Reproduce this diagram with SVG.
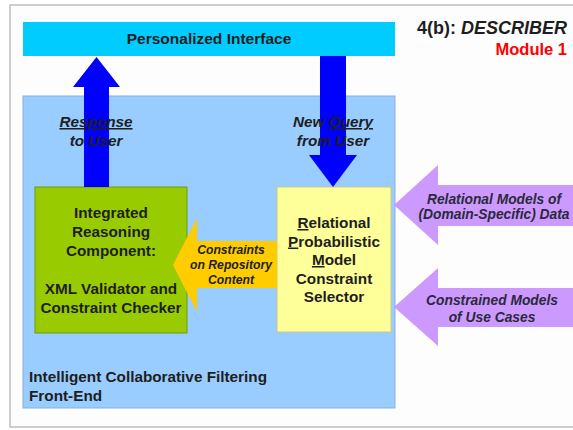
<svg xmlns="http://www.w3.org/2000/svg" width="573" height="430" viewBox="0 0 573 430">
  <style>
    text { font-family: "Liberation Sans", Arial, sans-serif; font-weight: bold; fill: #1e1e1e; }
    .main { font-size: 15.3px; }
    .mid { text-anchor: middle; }
    .it { font-style: italic; }
    .small { font-size: 12.2px; }
    .side { font-size: 13.8px; fill: #2a2a3a; }
    .ul { text-decoration: underline; }
  </style>

  <!-- page -->
  <rect x="0" y="0" width="573" height="430" fill="#ffffff"/>
  <rect x="10" y="5" width="575" height="422" fill="#fdfdfd" stroke="#bdbdbd" stroke-width="1.5"/>

  <!-- heading -->
  <g id="heading">
    <text x="567" y="34" text-anchor="end" style="font-size:18px">4(b): <tspan class="it">DESCRIBER</tspan></text>
    <text x="567" y="55" text-anchor="end" style="font-size:16.5px;fill:#ff0000">Module 1</text>
  </g>

  <!-- top bar -->
  <g id="personalized-interface">
    <rect x="23" y="22" width="372" height="34" fill="#00ccff"/>
    <text class="main mid" x="209" y="44" style="font-size:15.5px">Personalized Interface</text>
  </g>

  <!-- front-end container -->
  <g id="front-end">
    <rect x="23" y="96" width="372" height="312" fill="#99ccff" stroke="#8ab0d8" stroke-width="1"/>
    <text class="main" x="29" y="382">Intelligent Collaborative Filtering</text>
    <text class="main" x="29" y="401">Front-End</text>
  </g>

  <!-- reasoning component -->
  <g id="reasoning">
    <rect x="35" y="187" width="152" height="146" fill="#99cc00" stroke="#6f9a10" stroke-width="1"/>
    <text class="main mid" x="111" y="218">Integrated</text>
    <text class="main mid" x="111" y="237">Reasoning</text>
    <text class="main mid" x="111" y="256">Component:</text>
    <text class="main mid" x="111" y="294">XML Validator and</text>
    <text class="main mid" x="111" y="313">Constraint Checker</text>
  </g>

  <!-- constraint selector -->
  <g id="selector">
    <rect x="277" y="187" width="114" height="145" fill="#ffff99" stroke="#c8c890" stroke-width="1"/>
    <text class="main mid" x="334" y="228"><tspan class="ul">R</tspan>elational</text>
    <text class="main mid" x="334" y="246.5"><tspan class="ul">P</tspan>robabilistic</text>
    <text class="main mid" x="334" y="265"><tspan class="ul">M</tspan>odel</text>
    <text class="main mid" x="334" y="283.5">Constraint</text>
    <text class="main mid" x="334" y="302">Selector</text>
  </g>

  <!-- connectors -->
  <g id="connectors">
    <!-- response to user -->
    <polygon points="84,187 84,87 73,87 96.5,57 120,87 109,87 109,187" fill="#0000ff"/>
    <!-- new query from user -->
    <polygon points="320,56 346,56 346,155 357,155 333,187 309,155 320,155" fill="#0000ff"/>
    <!-- constraints on repository content -->
    <polygon points="277,241 197,241 197,218 173,265 197,312 197,288 277,288" fill="#ffcc00"/>
    <!-- relational models of data -->
    <polygon points="573,185 438,185 438,165 394,205 438,245 438,226 573,226" fill="#cc99ff"/>
    <!-- constrained models of use cases -->
    <polygon points="573,288 438,288 438,268 394,307 438,346 438,327 573,327" fill="#cc99ff"/>
  </g>

  <!-- connector labels -->
  <g id="labels">
    <text class="main mid it" x="96" y="127"><tspan class="ul">Response</tspan></text>
    <text class="main mid it" x="96" y="146">to User</text>
    <text class="main mid it" x="333" y="127">New <tspan class="ul">Query</tspan></text>
    <text class="main mid it" x="333" y="146">from User</text>
    <text class="small mid it" x="231" y="254">Constraints</text>
    <text class="small mid it" x="231" y="269">on Repository</text>
    <text class="small mid it" x="231" y="284">Content</text>
    <text class="side mid it" x="494" y="204">Relational Models of</text>
    <text class="side mid it" x="494" y="219">(Domain-Specific) Data</text>
    <text class="side mid it" x="492" y="305">Constrained Models</text>
    <text class="side mid it" x="492" y="322">of Use Cases</text>
  </g>
</svg>
